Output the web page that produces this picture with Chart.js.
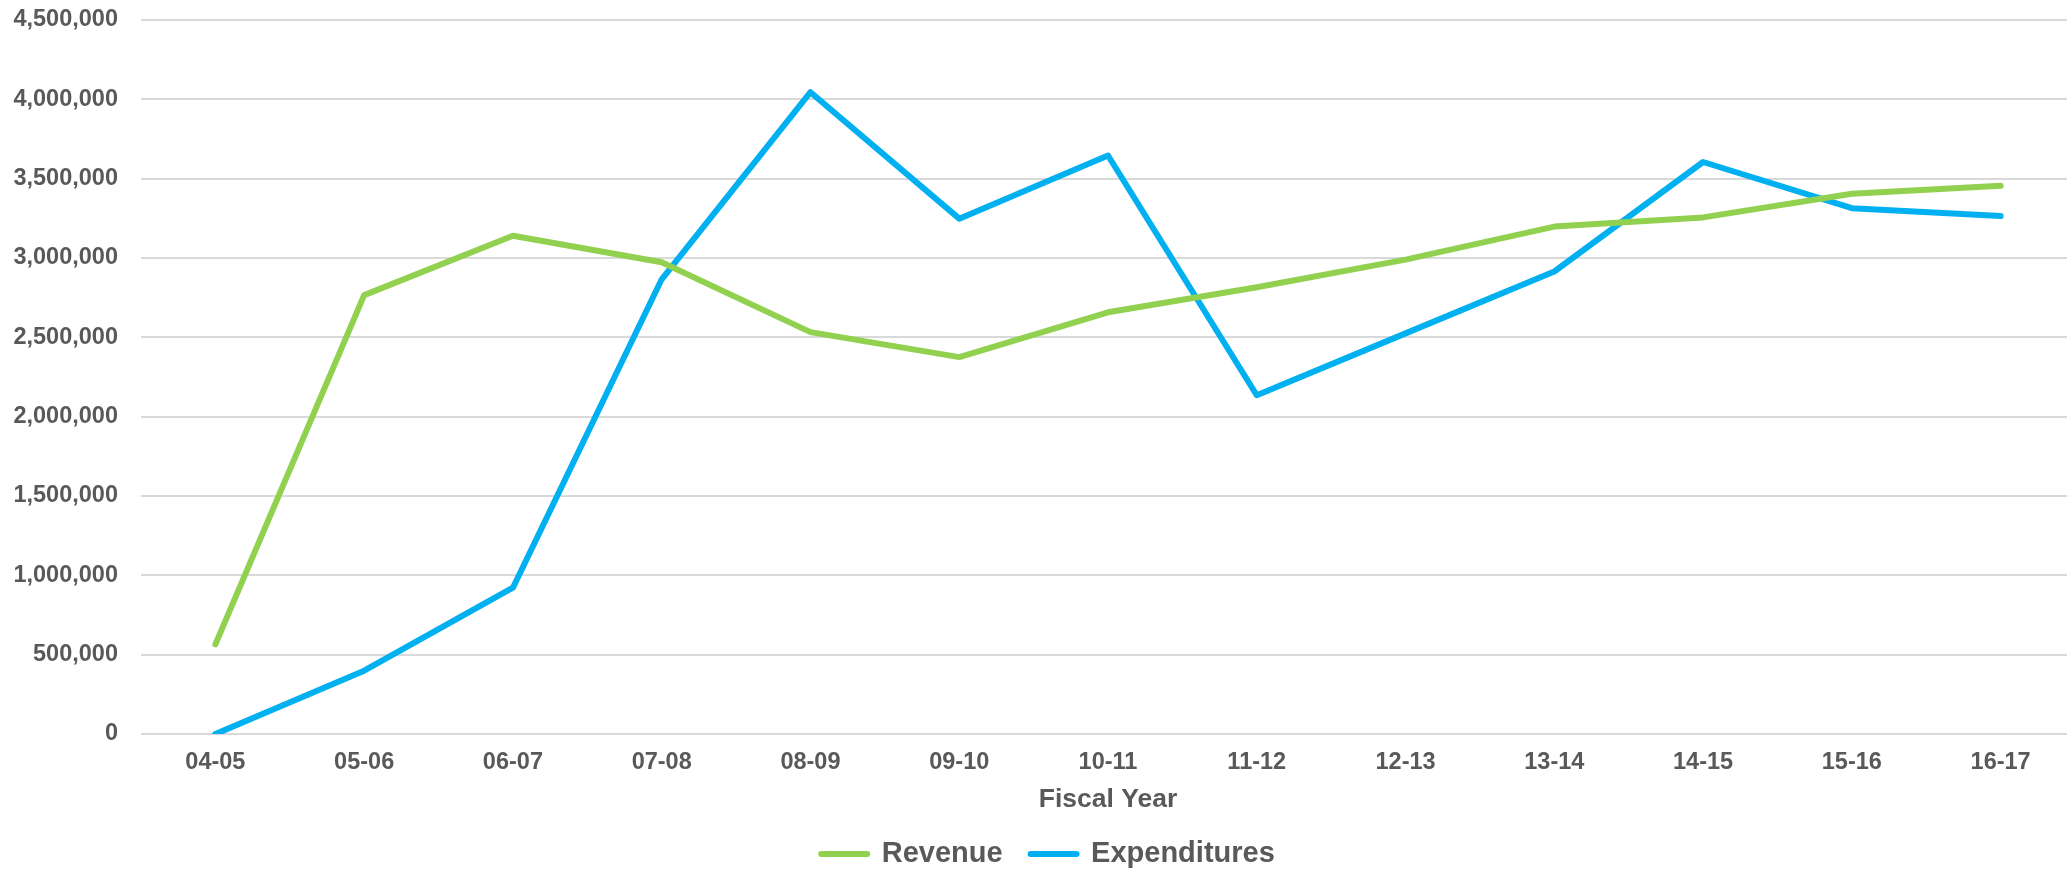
<!DOCTYPE html>
<html>
<head>
<meta charset="utf-8">
<script src="https://cdn.jsdelivr.net/npm/chart.js@4.4.1/dist/chart.umd.min.js"></script>
<style>
  html, body { margin: 0; padding: 0; background: #fff; overflow: hidden; }
  #wrap { width: 2067px; height: 870px; overflow: hidden; }
</style>
</head>
<body>
<div id="wrap"><canvas id="gFiscal" width="2075" height="870"></canvas></div>
<script>
var years = ["04-05", "05-06", "06-07", "07-08", "08-09", "09-10", "10-11",
             "11-12", "12-13", "13-14", "14-15", "15-16", "16-17"];
var revenue = [565000, 2766000, 3140000, 2973000, 2533000, 2375000, 2658000,
               2816000, 2990000, 3198000, 3256000, 3405000, 3455000];
var expenditures = [0, 399000, 922000, 2866000, 4045000, 3248000, 3646000,
                    2135000, 2525000, 2915000, 3605000, 3314000, 3264000];
var yTicks = [0, 500000, 1000000, 1500000, 2000000, 2500000, 3000000,
              3500000, 4000000, 4500000];

var grey = "#595959";
var fam = "'Liberation Sans', Arial, sans-serif";

// nudge the legend a bit to the right, like the Excel original
var legendShift = {
  id: 'legendShift',
  afterLayout: function (chart) {
    chart.legend.left += 10.5;
    chart.legend.right += 10.5;
  }
};

var ctx = document.getElementById("gFiscal").getContext('2d');
var myChart = new Chart(ctx, {
    type: 'line',
    data: {
      labels: years,
      datasets: [{
          label: "Revenue",
          borderColor: "#92D050",
          backgroundColor: "#92D050",
          data: revenue,
          fill: false
        }, {
          label: "Expenditures",
          borderColor: "#00B0F0",
          backgroundColor: "#00B0F0",
          data: expenditures,
          fill: false
        }
      ]
    },
    plugins: [legendShift],
    options: {
      responsive: false,
      animation: false,
      layout: { padding: { left: 0, right: 0, top: 20, bottom: -8.5 } },
      elements: {
        line: { borderWidth: 6, tension: 0, borderCapStyle: 'round', borderJoinStyle: 'round' },
        point: { radius: 0, hoverRadius: 0 }
      },
      scales: {
        x: {
          offset: true,
          grid: { display: false, drawTicks: false },
          border: { display: false },
          afterFit: function (s) { s.height = 77.5; },
          ticks: { color: grey, padding: 14, maxRotation: 0, font: { family: fam, size: 23.5, weight: 'bold' } },
          title: {
            display: true, text: 'Fiscal Year', color: grey,
            padding: { top: 0, bottom: -1 },
            font: { family: fam, size: 26.5, weight: 'bold', lineHeight: 1 }
          }
        },
        y: {
          min: 0,
          max: 4500000,
          afterBuildTicks: function (s) { s.ticks = yTicks.map(function (v) { return { value: v }; }); },
          afterFit: function (s) { s.width = 141; s.paddingTop = 0; s.paddingBottom = 0; },
          grid: { color: "#D9D9D9", lineWidth: 2, drawTicks: false },
          border: { display: false },
          ticks: {
            color: grey, padding: 23,
            font: { family: fam, size: 23.5, weight: 'bold' },
            callback: function (v) { return Number(v).toLocaleString('en-US'); }
          }
        }
      },
      plugins: {
        legend: {
          position: 'bottom',
          labels: {
            color: grey,
            usePointStyle: true,
            pointStyle: 'line',
            pointStyleWidth: 46,
            padding: 28,
            font: { family: fam, size: 29, weight: 'bold' },
            generateLabels: function (chart) {
              var items = Chart.defaults.plugins.legend.labels.generateLabels(chart);
              items.forEach(function (it) { it.lineWidth = 6; it.lineCap = 'round'; });
              return items;
            }
          }
        },
        tooltip: { enabled: false }
      }
    }
});
</script>
</body>
</html>
